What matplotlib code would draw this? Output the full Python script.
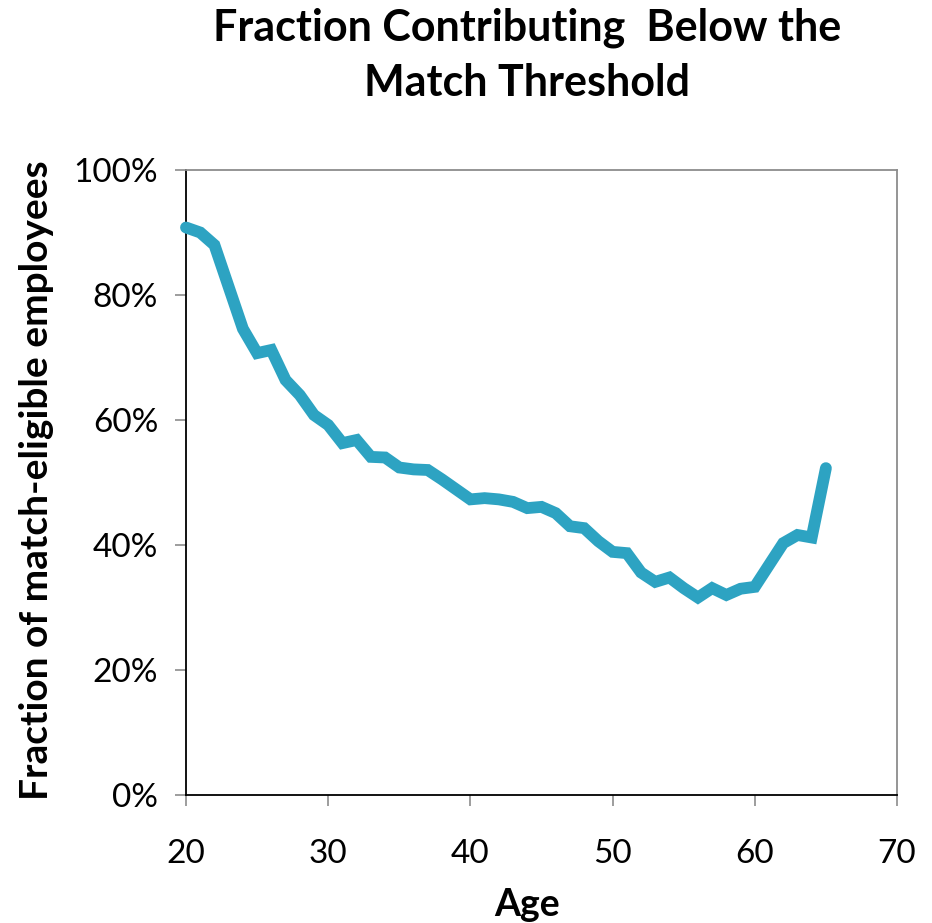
import matplotlib
matplotlib.use("Agg")
import matplotlib.pyplot as plt
from matplotlib.ticker import FuncFormatter, MultipleLocator

ages = list(range(20, 66))
fraction_below = [
    90.8, 90.0, 88.0, 81.3, 74.6, 70.7, 71.2, 66.4, 64.0, 60.8,
    59.2, 56.3, 56.8, 54.1, 54.0, 52.4, 52.1, 52.0, 50.5, 48.9,
    47.3, 47.5, 47.3, 46.9, 45.9, 46.1, 45.1, 43.0, 42.7, 40.6,
    38.9, 38.7, 35.6, 34.1, 34.8, 33.1, 31.6, 33.1, 32.0, 33.0,
    33.3, 36.8, 40.3, 41.6, 41.2, 52.3,
]
title_lines = ["Fraction Contributing  Below the", "Match Threshold"]
x_label = "Age"
y_label = "Fraction of match-eligible employees"
x_ticks = [20, 30, 40, 50, 60, 70]

plt.rcParams['font.family'] = ['Lato', 'DejaVu Sans']

W, H = 932, 923
fig = plt.figure(figsize=(W/100, H/100), dpi=100)
ax = fig.add_axes([186/W, 1-795/H, (897-186)/W, (795-170)/H])

ax.plot(ages, fraction_below, color='#2DA3C2', linewidth=8.5, solid_joinstyle='miter',
        solid_capstyle='round', clip_on=False, zorder=3)

ax.set_xlim(20, 70)
ax.set_ylim(0, 100)
ax.set_xticks(x_ticks)
ax.yaxis.set_major_locator(MultipleLocator(20))
ax.yaxis.set_major_formatter(FuncFormatter(lambda v, p: f"{int(round(v))}%"))

for s in ['left', 'bottom']:
    ax.spines[s].set_color('black')
    ax.spines[s].set_linewidth(1.3)
for s in ['top', 'right']:
    ax.spines[s].set_color('#8c8c8c')
    ax.spines[s].set_linewidth(1.3)

ax.tick_params(axis='both', direction='out', length=8, width=1.2, color='#8c8c8c',
               labelsize=24, labelcolor='black')
ax.tick_params(axis='x', pad=24)
ax.tick_params(axis='y', pad=12)

fig.text(527/W, 1-905/H, x_label, fontsize=27, fontweight='bold', ha='center', va='center')
fig.text(37/W, 1-480/H, y_label, fontsize=28, fontweight='bold', ha='center', va='center',
         rotation=90)
fig.text(527/W, 1-28/H, title_lines[0], fontsize=31, fontweight='bold', ha='center', va='center')
fig.text(527/W, 1-83/H, title_lines[1], fontsize=31, fontweight='bold', ha='center', va='center')

fig.savefig("out.png", dpi=100, facecolor='white')
